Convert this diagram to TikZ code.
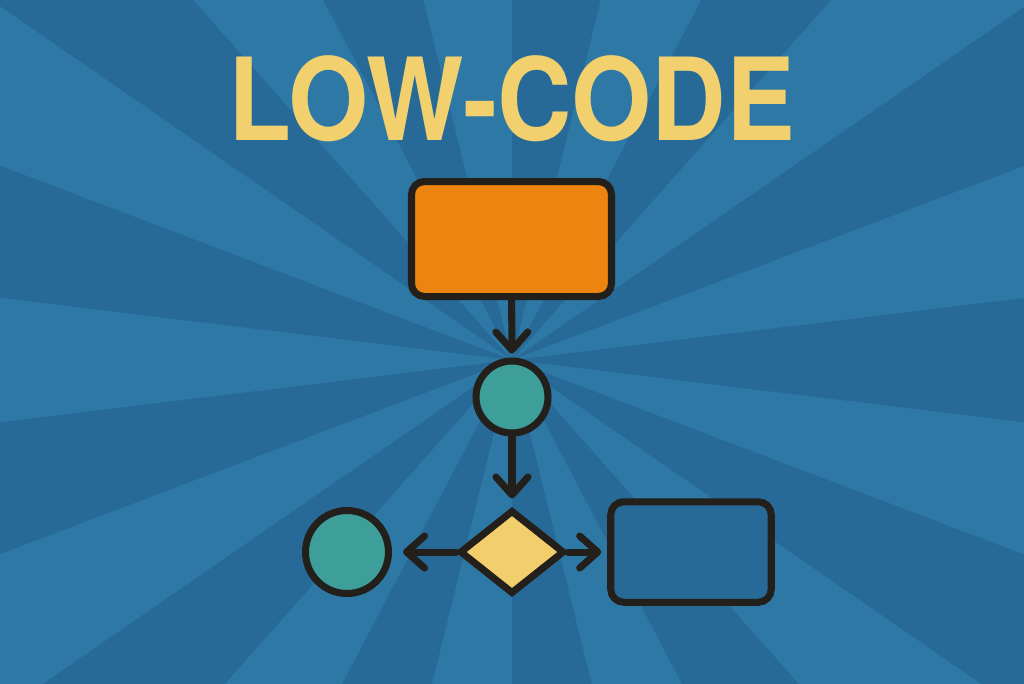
\documentclass[tikz,border=0pt]{standalone}
\usepackage{fontspec}
\setmainfont{TeX Gyre Heros}
\usetikzlibrary{shapes.geometric,arrows.meta}
\definecolor{bgdark}{RGB}{39,106,151}
\definecolor{bglight}{RGB}{46,120,166}
\definecolor{ink}{RGB}{35,31,26}
\definecolor{titleyellow}{RGB}{242,208,110}
\definecolor{boxorange}{RGB}{238,132,16}
\definecolor{nodeteal}{RGB}{62,158,154}
\definecolor{decyellow}{RGB}{242,206,108}
\tikzset{
    shape box/.style={draw=ink, line width=2pt, rounded corners=0.13cm, inner sep=0pt},
    shape dot/.style={circle, draw=ink, line width=2pt, fill=nodeteal, inner sep=0pt},
    flow/.style={draw=ink, line width=2pt, line cap=round,
        -{Straight Barb[length=1.8mm,width=3.2mm,round]}}
}
\begin{document}
\begin{tikzpicture}
    \useasboundingbox (0,0) rectangle (10.24,-6.83);
    % sunburst background
    \fill[bgdark] (-0.1,0.1) rectangle (10.34,-6.93);
    \begin{scope}
        \clip (-0.1,0.1) rectangle (10.34,-6.93);
        \foreach \a in {0,...,12} {
            \fill[bglight] (5.12,-3.6) -- +({173.08+27.69*\a}:14) -- +({186.92+27.69*\a}:14) -- cycle;
        }
    \end{scope}
    % title
    \node[anchor=base, text=titleyellow, xscale=0.9,
        font=\bfseries\fontsize{32.6}{36}\selectfont] (title) at (5.115,-1.40) {LOW-CODE};
    % flow chart
    \node[shape box, fill=boxorange, minimum width=2.0cm, minimum height=1.15cm] (start) at (5.115,-2.39) {};
    \node[shape dot, minimum size=0.72cm] (step) at (5.12,-3.97) {};
    \node[diamond, draw=ink, line width=2pt, fill=decyellow, inner sep=0pt,
        minimum width=1.05cm, minimum height=0.84cm] (choice) at (5.12,-5.52) {};
    \node[shape dot, minimum size=0.83cm] (left) at (3.47,-5.52) {};
    \node[shape box, fill=bgdark, minimum width=1.605cm, minimum height=1.005cm] (right) at (6.91,-5.52) {};
    \draw[flow, shorten >=0.04cm] (start) -- (step);
    \draw[flow, shorten >=0.08cm] (step) -- (choice);
    \draw[flow, shorten >=0.11cm] (choice) -- (left);
    \draw[flow, shorten >=0.06cm] (choice) -- (right);
\end{tikzpicture}
\end{document}
